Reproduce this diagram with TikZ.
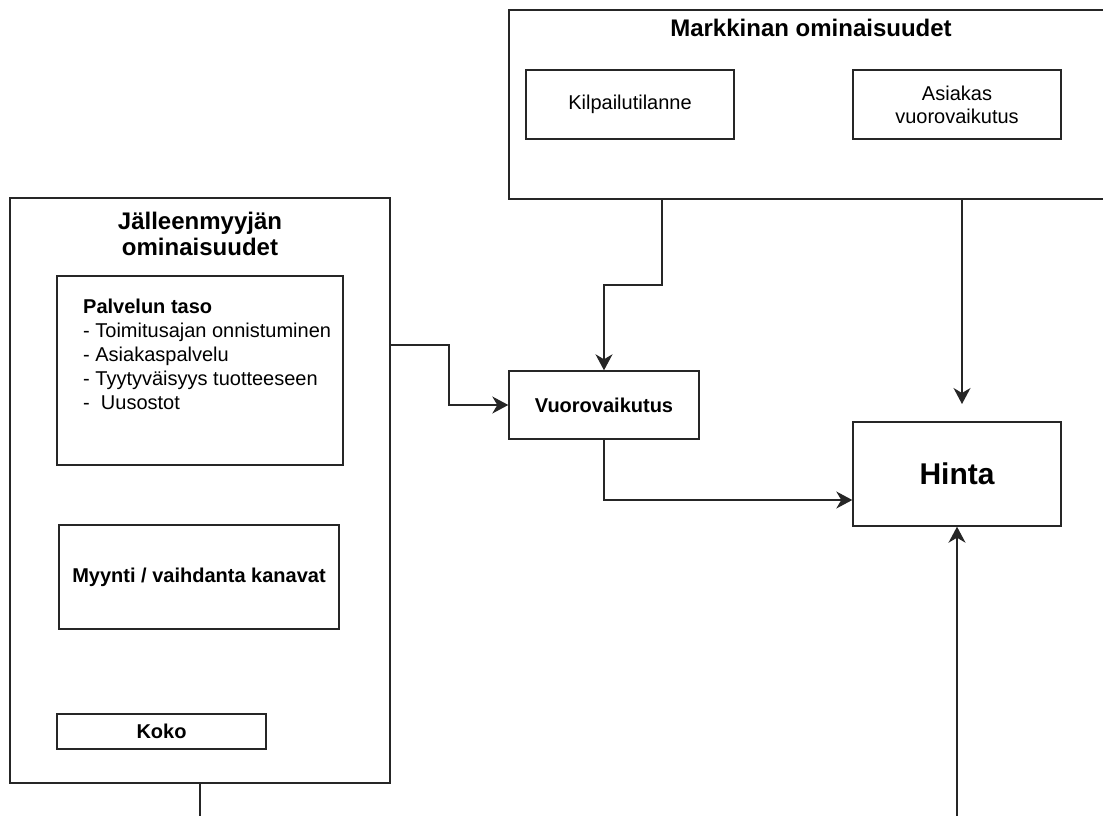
\documentclass[tikz,border=0pt]{standalone}
\usepackage{fontspec}
\setmainfont{Liberation Sans}
\usetikzlibrary{arrows.meta}
\tikzset{
  box/.style={draw=black!85, line width=1.4pt, inner sep=0pt, fill=white},
  reg/.style={font=\fontsize{20}{23}\selectfont, align=center, inner sep=0pt},
  bld/.style={font=\fontsize{20}{23}\selectfont\bfseries, align=center, inner sep=0pt},
  ttl/.style={font=\fontsize{24}{26}\selectfont\bfseries, inner sep=0pt},
  itm/.style={font=\fontsize{20}{24}\selectfont, inner sep=0pt, anchor=base west},
  conn/.style={draw=black!85, line width=1.4pt},
  arr/.style={conn, -{Stealth[length=16pt, width=17pt, inset=5pt]}}
}
\begin{document}
\begin{tikzpicture}[x=1pt, y=-1pt]
\path[use as bounding box, fill=white] (0,0) rectangle (1103,816);
\clip (0,0) rectangle (1103,816);

% left group
\node[box, minimum width=380pt, minimum height=585pt] (jm) at (200,490.5) {};
\node[ttl, anchor=base] (jmt1) at (200,229) {Jälleenmyyjän};
\node[ttl, anchor=base] (jmt2) at (200,255) {ominaisuudet};
\node[box, minimum width=286pt, minimum height=189pt] (pt) at (200,370.5) {};
\node[itm, font=\fontsize{20}{24}\selectfont\bfseries] (pt1) at (83,313) {Palvelun taso};
\node[itm] (pt2) at (83,337) {- Toimitusajan onnistuminen};
\node[itm] (pt3) at (83,361) {- Asiakaspalvelu};
\node[itm] (pt4) at (83,385) {- Tyytyväisyys tuotteeseen};
\node[itm] (pt5) at (83,409) {-\ \ Uusostot};
\node[box, bld, minimum width=280pt, minimum height=104pt] (my) at (199,577) {Myynti / vaihdanta kanavat};
\node[box, bld, minimum width=209pt, minimum height=35pt] (ko) at (161.5,731.5) {Koko};

% market group
\node[box, minimum width=604pt, minimum height=189pt] (mk) at (811,104.5) {};
\node[ttl, anchor=base] (mkt) at (811,37) {Markkinan ominaisuudet};
\node[box, reg, minimum width=208pt, minimum height=69pt] (kp) at (630,104.5) {Kilpailutilanne};
\node[box, reg, minimum width=208pt, minimum height=69pt] (as) at (957,104.5) {Asiakas\\vuorovaikutus};

% middle and result
\node[box, bld, minimum width=190pt, minimum height=68pt] (vu) at (604,405) {Vuorovaikutus};
\node[box, font=\fontsize{30}{34}\selectfont\bfseries, minimum width=208pt, minimum height=104pt] (hi) at (957,474) {Hinta};

% connectors
\coordinate (c1) at (449,345);
\coordinate (c2) at (662,285);
\coordinate (c3) at (962,404);
\coordinate (c4) at (604,500);
\coordinate (c5) at (957,822);
\coordinate (c6) at (200,822);
\draw[arr] (jm.east |- c1) -- (c1) |- (vu.west);
\draw[arr] (mk.south -| c2) -- (c2) -| (vu.north);
\draw[arr] (mk.south -| c3) -- (c3);
\draw[arr] (vu.south) -- (c4) -- (hi.west |- c4);
\draw[arr] (c5) -- (hi.south);
\draw[conn] (jm.south) -- (c6);
\end{tikzpicture}
\end{document}
